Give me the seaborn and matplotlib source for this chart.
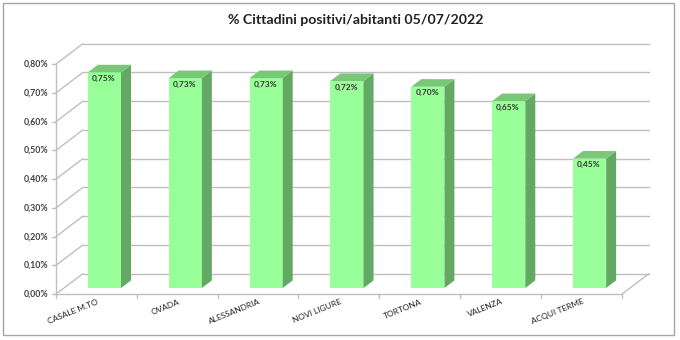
import matplotlib
matplotlib.use("Agg")
import matplotlib.pyplot as plt
import seaborn as sns
from matplotlib.patches import Polygon, Rectangle
from matplotlib.lines import Line2D
from matplotlib.transforms import offset_copy

# Data
cities = ["CASALE M.TO", "OVADA", "ALESSANDRIA", "NOVI LIGURE", "TORTONA", "VALENZA", "ACQUI TERME"]
values = [0.75, 0.73, 0.73, 0.72, 0.70, 0.65, 0.45]          # percent
tick_values = [0.0, 0.1, 0.2, 0.3, 0.4, 0.5, 0.6, 0.7, 0.8]
title = "% Cittadini positivi/abitanti 05/07/2022"

sns.set_theme(style="white")
plt.rcParams["font.family"] = ["Lato", "DejaVu Sans"]

W, H = 680, 340
fig = plt.figure(figsize=(W / 100, H / 100), dpi=100)

# axes = front plane of the bars
ax_left, ax_right = 64, 630
ax_bottom, ax_top = 288, 58
ax = fig.add_axes([ax_left / W, 1 - ax_bottom / H,
                   (ax_right - ax_left) / W, (ax_bottom - ax_top) / H])

FRONT = "#99FF99"
SIDE = "#63A863"
TOP = "#78C878"
GRID = "#BFBFBF"

sns.barplot(x=cities, y=values, color=FRONT, saturation=1, width=0.41,
            linewidth=0, ax=ax, zorder=3)
ax.set_xlim(-0.5, len(cities) - 0.5)
ax.set_ylim(0, 0.8)
ax.axis("off")

# depth vector (pixels) of the whole box, converted to data units
DX, DY = 27.0, 20.5
px_x = (ax_right - ax_left) / len(cities)
px_y = (ax_bottom - ax_top) / 0.8
ddx, ddy = DX / px_x, DY / px_y


def shifted(x, y, f):
    return (x + f * ddx, y + f * ddy)


F_WALL, B_WALL = -0.3, 0.7
BAR_DEPTH = 0.37
x0, x1 = -0.5, len(cities) - 0.5

# back wall gridlines and left wall diagonals
for v in tick_values:
    a = shifted(x0, v, B_WALL)
    b = shifted(x1, v, B_WALL)
    ax.add_line(Line2D([a[0], b[0]], [a[1], b[1]], color=GRID, lw=1, clip_on=False, zorder=1))
    c = shifted(x0, v, F_WALL)
    ax.add_line(Line2D([c[0], a[0]], [c[1], a[1]], color=GRID, lw=1, clip_on=False, zorder=1))
    # small tick on the front axis
    t = shifted(x0 - 4 / px_x, v, F_WALL)
    ax.add_line(Line2D([t[0], c[0]], [t[1], c[1]], color=GRID, lw=1, clip_on=False, zorder=1))
    ax.text(c[0], c[1], f"{v:.2f}%".replace(".", ","),
            transform=offset_copy(ax.transData, fig=fig, x=-8, y=0, units="dots"),
            ha="right", va="center", fontsize=6.3, fontweight="bold",
            color="#404040", clip_on=False)

# front vertical axis
a = shifted(x0, 0, F_WALL)
b = shifted(x0, 0.8, F_WALL)
ax.add_line(Line2D([a[0], b[0]], [a[1], b[1]], color=GRID, lw=1, clip_on=False, zorder=1))

# floor: front edge and right diagonal
fl = shifted(x0, 0, F_WALL)
fr = shifted(x1, 0, F_WALL)
br = shifted(x1, 0, B_WALL)
ax.add_line(Line2D([fl[0], fr[0]], [fl[1], fr[1]], color=GRID, lw=1, clip_on=False, zorder=1))
ax.add_line(Line2D([fr[0], br[0]], [fr[1], br[1]], color=GRID, lw=1, clip_on=False, zorder=1))
for k in range(len(cities) + 1):
    p = shifted(x0 + k, 0, F_WALL)
    ax.add_line(Line2D([p[0], p[0]], [p[1], p[1] - 4 / px_y], color=GRID, lw=1,
                       clip_on=False, zorder=1))

# 3D side and top faces of each bar, value labels
for patch, v in zip(ax.patches, values):
    bx, bw = patch.get_x(), patch.get_width()
    side = [(bx + bw, 0), (bx + bw, v), shifted(bx + bw, v, BAR_DEPTH), shifted(bx + bw, 0, BAR_DEPTH)]
    ax.add_patch(Polygon(side, closed=True, facecolor=SIDE, edgecolor="none",
                         clip_on=False, zorder=3))
    top = [(bx, v), (bx + bw, v), shifted(bx + bw, v, BAR_DEPTH), shifted(bx, v, BAR_DEPTH)]
    ax.add_patch(Polygon(top, closed=True, facecolor=TOP, edgecolor="none",
                         clip_on=False, zorder=3))
    patch.set_clip_on(False)
    ax.text(bx, v, f"{v:.2f}%".replace(".", ","),
            transform=offset_copy(ax.transData, fig=fig, x=4, y=-6, units="dots"),
            ha="left", va="center", fontsize=6, fontweight="bold", color="#333333",
            zorder=4, clip_on=False)

# category labels
for i, name in enumerate(cities):
    p = shifted(i, 0, F_WALL)
    ax.text(p[0], p[1], name,
            transform=offset_copy(ax.transData, fig=fig, x=2, y=-7, units="dots"),
            ha="right", va="center", rotation=22, rotation_mode="anchor",
            fontsize=6, color="#222222", clip_on=False)

# title
fig.text(356 / W, 1 - 20 / H, title, ha="center", va="center",
         fontsize=10.2, fontweight="bold", color="#222222")

# outer frame
fig.patches.append(Rectangle((3 / W, 1 - 335 / H), 671 / W, 332 / H,
                             transform=fig.transFigure, fill=False,
                             edgecolor="#A6A6A6", lw=1))

fig.savefig("out.png", dpi=100, facecolor="white")
